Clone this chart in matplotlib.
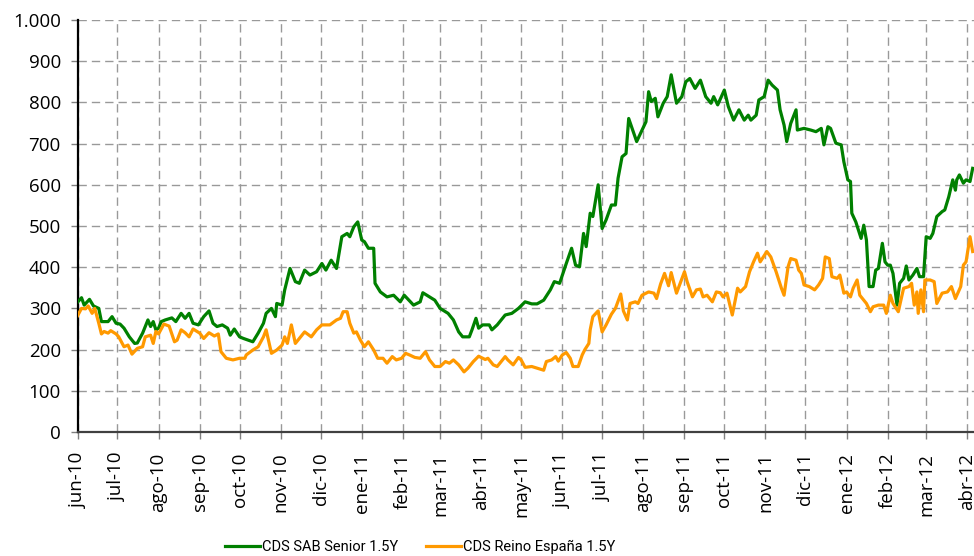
import numpy as np
import matplotlib.pyplot as plt
from matplotlib.ticker import FuncFormatter

plt.rcParams['font.family'] = ['Open Sans', 'DejaVu Sans']

start = np.datetime64('2010-06-01')

# dias desde el 01-jun-2010 y nivel del CDS (pb)
sab_days = [0, 3, 5, 9, 12, 16, 18, 23, 26, 29, 32, 35, 39, 43, 45, 49, 53, 55, 57, 59, 61, 63, 66, 71, 74,
            78, 81, 84, 87, 91, 95, 99, 102, 105, 109, 113, 115, 118, 122, 125, 132, 136, 140, 142, 146, 149,
            150, 154, 156, 160, 164, 167, 171, 175, 180, 184, 187, 191, 195, 199, 203, 205, 208, 211, 214, 216,
            219, 223, 224, 228, 233, 238, 243, 246, 253, 258, 260, 265, 269, 273, 279, 283, 287, 290, 295, 297,
            300, 302, 305, 310, 312, 316, 318, 322, 327, 332, 337, 342, 346, 351, 356, 359, 363, 368, 372, 375,
            378, 381, 383, 386, 388, 392, 395, 398, 402, 405, 407, 410, 413, 415, 421, 428, 430, 432, 435, 437,
            441, 444, 447, 451, 455, 458, 461, 465, 469, 473, 477, 479, 482, 487, 490, 494, 498, 502, 505, 507,
            511, 513, 517, 520, 523, 527, 529, 532, 534, 537, 541, 542, 547, 552, 556, 560, 562, 565, 567, 571,
            575, 577, 580, 582, 583, 586, 588, 590, 592, 594, 596, 599, 601, 603, 606, 608, 610, 612, 614, 617,
            619, 622, 624, 626, 629, 632, 634, 637, 639, 642, 644, 647, 651, 653, 656, 659, 661, 662, 664, 667,
            669, 672, 674]
sab_vals = [315, 326, 308, 322, 306, 300, 268, 268, 280, 264, 262, 252, 231, 215, 216, 240, 272, 256, 268, 248,
            252, 268, 272, 277, 268, 288, 276, 288, 264, 260, 280, 294, 264, 256, 260, 252, 235, 250, 231, 227,
            219, 240, 264, 288, 300, 280, 312, 308, 345, 397, 365, 361, 393, 381, 389, 409, 393, 417, 397, 474,
            482, 474, 498, 510, 466, 462, 446, 446, 361, 340, 328, 332, 316, 332, 308, 316, 338, 328, 320, 300,
            288, 272, 243, 231, 231, 248, 276, 252, 260, 260, 248, 260, 268, 284, 288, 300, 316, 311, 311, 320,
            345, 365, 361, 409, 446, 405, 401, 482, 450, 531, 523, 600, 494, 515, 551, 551, 616, 668, 676, 761,
            705, 753, 826, 802, 810, 765, 798, 814, 867, 798, 814, 850, 858, 834, 854, 814, 798, 814, 794, 830,
            790, 757, 782, 757, 769, 757, 769, 806, 814, 854, 842, 830, 782, 745, 705, 749, 782, 733, 737, 733,
            729, 737, 697, 741, 737, 701, 697, 656, 612, 608, 531, 510, 490, 470, 502, 466, 353, 353, 393, 397,
            458, 413, 405, 405, 385, 308, 361, 373, 403, 369, 381, 397, 377, 377, 474, 470, 482, 523, 535, 539,
            571, 612, 587, 612, 624, 604, 612, 608, 640]

esp_days = [0, 3, 6, 8, 11, 13, 16, 18, 20, 23, 25, 29, 31, 35, 38, 41, 45, 49, 51, 55, 57, 59, 61, 65, 69,
            73, 75, 78, 81, 84, 87, 92, 95, 99, 103, 106, 108, 112, 117, 122, 126, 127, 132, 136, 140, 142, 146,
            150, 154, 156, 158, 161, 164, 167, 171, 176, 180, 184, 190, 195, 198, 200, 203, 205, 208, 210, 213,
            216, 219, 223, 226, 230, 233, 237, 240, 244, 247, 250, 254, 258, 262, 265, 269, 273, 277, 280, 283,
            287, 291, 294, 298, 302, 307, 309, 313, 316, 319, 322, 324, 328, 332, 334, 337, 342, 346, 351, 353,
            357, 360, 362, 365, 368, 371, 373, 377, 380, 382, 385, 386, 388, 392, 395, 398, 402, 405, 409, 411,
            414, 416, 420, 422, 425, 430, 434, 436, 439, 442, 445, 447, 451, 457, 459, 463, 466, 469, 471, 474,
            478, 481, 484, 486, 489, 493, 497, 499, 503, 506, 509, 512, 514, 519, 522, 526, 530, 532, 535, 537,
            541, 543, 545, 547, 551, 555, 558, 561, 563, 566, 568, 572, 574, 577, 579, 582, 584, 587, 589, 592,
            594, 597, 599, 603, 607, 609, 612, 614, 618, 622, 626, 628, 630, 632, 633, 635, 637, 638, 642, 645,
            647, 651, 655, 658, 661, 665, 667, 669, 672, 674]
esp_vals = [282, 300, 299, 306, 288, 300, 264, 238, 244, 240, 246, 238, 231, 207, 211, 189, 203, 207, 231, 235,
            215, 244, 238, 262, 257, 219, 223, 248, 241, 231, 250, 240, 227, 241, 233, 238, 195, 179, 175, 179,
            179, 187, 199, 207, 231, 248, 191, 199, 211, 231, 215, 260, 215, 227, 243, 231, 248, 260, 260, 272,
            276, 292, 292, 264, 240, 243, 223, 207, 219, 199, 179, 179, 167, 183, 175, 179, 191, 187, 181, 179,
            195, 175, 159, 159, 171, 167, 175, 163, 146, 155, 171, 184, 176, 179, 163, 159, 171, 183, 175, 163,
            181, 175, 157, 159, 155, 150, 171, 175, 183, 172, 187, 193, 179, 159, 159, 187, 200, 215, 248, 280,
            294, 243, 260, 286, 300, 335, 294, 272, 312, 316, 312, 332, 340, 337, 324, 359, 385, 355, 387, 337,
            389, 365, 328, 345, 347, 328, 332, 316, 340, 338, 328, 337, 284, 349, 340, 353, 389, 413, 434, 413,
            438, 425, 389, 349, 332, 401, 421, 417, 393, 385, 357, 353, 345, 357, 373, 425, 421, 377, 373, 381,
            337, 340, 328, 349, 369, 332, 320, 312, 292, 304, 308, 308, 288, 332, 312, 292, 349, 353, 361, 308,
            340, 288, 345, 292, 369, 369, 365, 312, 337, 340, 353, 324, 353, 405, 413, 474, 438]

month_labels = ['jun-10', 'jul-10', 'ago-10', 'sep-10', 'oct-10', 'nov-10', 'dic-10', 'ene-11', 'feb-11',
                'mar-11', 'abr-11', 'may-11', 'jun-11', 'jul-11', 'ago-11', 'sep-11', 'oct-11', 'nov-11',
                'dic-11', 'ene-12', 'feb-12', 'mar-12', 'abr-12']

sab_dates = start + np.array(sab_days, dtype='timedelta64[D]')
esp_dates = start + np.array(esp_days, dtype='timedelta64[D]')
month_ticks = np.arange('2010-06', '2012-05', dtype='datetime64[M]').astype('datetime64[D]')

fig = plt.figure(figsize=(9.74, 5.56), dpi=100)
ax = fig.add_axes([0.0796, 0.223, 0.9204, 0.741])

ax.plot(sab_dates, sab_vals, color='#008000', lw=2.3, label='CDS SAB Senior 1.5Y', zorder=3)
ax.plot(esp_dates, esp_vals, color='#FF9900', lw=2.3, label='CDS Reino España 1.5Y', zorder=3)

ax.set_xlim(start, start + np.timedelta64(675, 'D'))
ax.set_ylim(0, 1000)
ax.set_yticks(np.arange(0, 1001, 100))
ax.yaxis.set_major_formatter(FuncFormatter(lambda v, p: f'{int(v):,}'.replace(',', '.')))
ax.set_xticks(month_ticks)
ax.set_xticklabels(month_labels, rotation=90)

ax.grid(True, color='#999999', lw=1, linestyle=(0, (6, 3.6)))
ax.set_axisbelow(True)

ax.spines['top'].set_visible(False)
ax.spines['right'].set_visible(False)
ax.spines['left'].set_color('black')
ax.spines['left'].set_linewidth(1.6)
ax.spines['bottom'].set_color('#404040')
ax.spines['bottom'].set_linewidth(1.6)

ax.tick_params(axis='both', direction='out', length=5, width=1, color='#808080', labelsize=13.5)
ax.tick_params(axis='y', pad=7)
ax.tick_params(axis='x', pad=10)

# leyenda con letra mas estrecha
fig.legend(loc='center', bbox_to_anchor=(0.431, 0.016), ncol=2, frameon=False,
           prop={'family': ['Roboto', 'DejaVu Sans'], 'size': 10.5},
           handlelength=2.4, handletextpad=0.15, columnspacing=1.9)

fig.savefig('out.png', dpi=100)
